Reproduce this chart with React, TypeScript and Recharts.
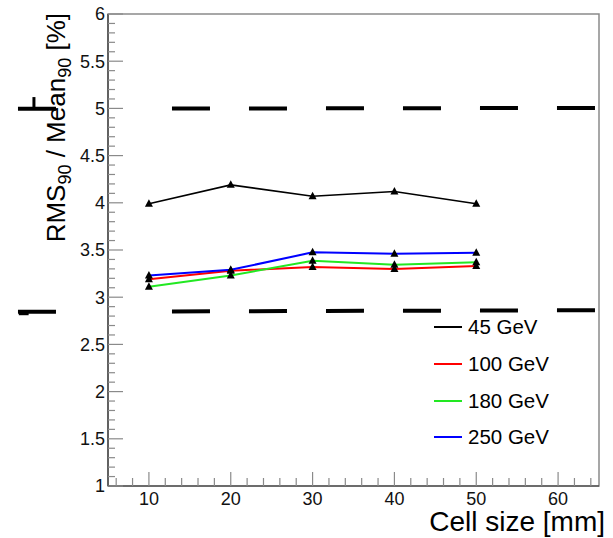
import React from 'react'
import { LineChart, Line, XAxis, YAxis, ReferenceLine, ReferenceArea, Legend } from 'recharts'

// cell size [mm] and RMS90/Mean90 [%] per beam energy
const cellSizes = [10, 20, 30, 40, 50]
const rms45 = [3.99, 4.19, 4.07, 4.12, 3.99]
const rms100 = [3.19, 3.28, 3.32, 3.3, 3.33]
const rms180 = [3.11, 3.23, 3.385, 3.345, 3.37]
const rms250 = [3.23, 3.29, 3.475, 3.46, 3.47]

const seriesNames = ['45 GeV', '100 GeV', '180 GeV', '250 GeV']
const seriesKeys = ['e45', 'e100', 'e180', 'e250']
const seriesColors = ['#000000', '#ff0000', '#22e822', '#0000ff']

// dashed band lines (left end, right end)
const upperBand = [4.995, 5.005]
const lowerBand = [2.845, 2.862]
const bandX = [-6, 64.65]

const xDomain = [5, 65]
const yDomain = [1, 6]
const xTicks = Array.from({ length: 30 }, (_, i) => 6 + i * 2)
const yTicks = Array.from({ length: 51 }, (_, i) => Math.round(10 + i) / 10)

const data = cellSizes.map((s, i) => ({
  size: s,
  e45: rms45[i],
  e100: rms100[i],
  e180: rms180[i],
  e250: rms250[i],
}))

const font = '"Liberation Sans", Arial, Helvetica, sans-serif'
const tickGray = '#8a8a8a'

function YTick({ x, y, payload }: any) {
  const v = payload.value
  const major = Math.abs(v * 2 - Math.round(v * 2)) < 1e-6
  return (
    <g>
      <line x1={x} x2={x + (major ? 15 : 7)} y1={y} y2={y} stroke={tickGray} strokeWidth={1.2} />
      {major && (
        <text x={x - 3} y={y} dy="0.36em" textAnchor="end" fontSize={18} fontFamily={font} fill="#111">
          {String(v)}
        </text>
      )}
    </g>
  )
}

function XTick({ x, y, payload }: any) {
  const v = payload.value
  const major = v % 10 === 0
  return (
    <g>
      <line x1={x} x2={x} y1={y} y2={y - (major ? 14 : 8)} stroke={tickGray} strokeWidth={1.2} />
      {major && (
        <text x={x} y={y + 19} textAnchor="middle" fontSize={18} fontFamily={font} fill="#111">
          {String(v)}
        </text>
      )}
    </g>
  )
}

function YTitle({ viewBox }: any) {
  const x = viewBox.x + 65
  const y = viewBox.y - 1
  return (
    <text x={x} y={y} transform={`rotate(-90, ${x}, ${y})`} textAnchor="end" fontSize={26} fontFamily={font} fill="#000">
      RMS<tspan fontSize={18} dy={6}>90</tspan>
      <tspan dy={-6}> / Mean</tspan>
      <tspan fontSize={18} dy={6}>90</tspan>
      <tspan dy={-6}> [%]</tspan>
    </text>
  )
}

function XTitle({ viewBox }: any) {
  return (
    <text x={viewBox.x + viewBox.width + 6} y={viewBox.y + 45} textAnchor="end" fontSize={28} fontFamily={font} fill="#000">
      Cell size [mm]
    </text>
  )
}

function Triangle({ cx, cy }: any) {
  if (cx == null || cy == null) return null
  return <path d={`M${cx},${cy - 4.5} L${cx - 4},${cy + 3} L${cx + 4},${cy + 3} Z`} fill="#000" />
}

function LegendBox() {
  return (
    <div style={{ fontFamily: font }}>
      {seriesNames.map((name, i) => (
        <div key={name} style={{ display: 'flex', alignItems: 'center', height: 36.7 }}>
          <span style={{ width: 28, height: 2, background: seriesColors[i], marginRight: 6 }} />
          <span style={{ fontSize: 20.5, color: '#000' }}>{name}</span>
        </div>
      ))}
    </div>
  )
}

export default function App() {
  return (
    <div style={{ position: 'absolute', left: 0, top: 0, width: 613, height: 538, background: '#fff' }}>
      <LineChart width={613} height={538} data={data} margin={{ top: 14, right: 14, left: 0, bottom: 0 }}>
        <XAxis
          type="number"
          dataKey="size"
          domain={xDomain}
          ticks={xTicks}
          interval={0}
          allowDataOverflow
          height={52}
          tickSize={0}
          tickMargin={0}
          tickLine={false}
          tick={<XTick />}
          axisLine={{ stroke: '#333', strokeWidth: 1.2 }}
          label={{ content: <XTitle /> }}
        />
        <YAxis
          type="number"
          domain={yDomain}
          ticks={yTicks}
          interval={0}
          allowDataOverflow
          width={108}
          tickSize={0}
          tickMargin={0}
          tickLine={false}
          tick={<YTick />}
          axisLine={{ stroke: '#333', strokeWidth: 1.2 }}
          label={{ content: <YTitle /> }}
        />
        <ReferenceArea x1={xDomain[0]} x2={xDomain[1]} y1={yDomain[0]} y2={yDomain[1]} fill="none" stroke="#8a8a8a" strokeWidth={1.5} ifOverflow="visible" />
        <ReferenceLine
          segment={[{ x: bandX[0], y: upperBand[0] }, { x: bandX[1], y: upperBand[1] }]}
          stroke="#000" strokeWidth={4} ifOverflow="visible"
          strokeDasharray="38 116 38 39 38 39 38 39 38 39 38 39 38 39"
        />
        <ReferenceLine
          segment={[{ x: bandX[0], y: lowerBand[0] }, { x: bandX[1], y: lowerBand[1] }]}
          stroke="#000" strokeWidth={4} ifOverflow="visible"
          strokeDasharray="38 116 38 39 38 39 38 39 38 39 38 39 38 39"
        />
        <ReferenceLine segment={[{ x: -4.05, y: upperBand[0] }, { x: -4.05, y: 5.12 }]} stroke="#000" strokeWidth={3} ifOverflow="visible" />
        <ReferenceLine segment={[{ x: -5.9, y: 2.825 }, { x: -4.7, y: 2.825 }]} stroke="#000" strokeWidth={3} ifOverflow="visible" />
        {seriesKeys.map((k, i) => (
          <Line
            key={k}
            type="linear"
            dataKey={k}
            stroke={seriesColors[i]}
            strokeWidth={i === 0 ? 1.6 : 2}
            dot={<Triangle />}
            activeDot={false}
            isAnimationActive={false}
          />
        ))}
        <Legend
          layout="vertical"
          align="center"
          verticalAlign="middle"
          content={() => <LegendBox />}
          wrapperStyle={{ left: 434, top: 309, width: 'auto', height: 'auto' }}
        />
      </LineChart>
    </div>
  )
}
